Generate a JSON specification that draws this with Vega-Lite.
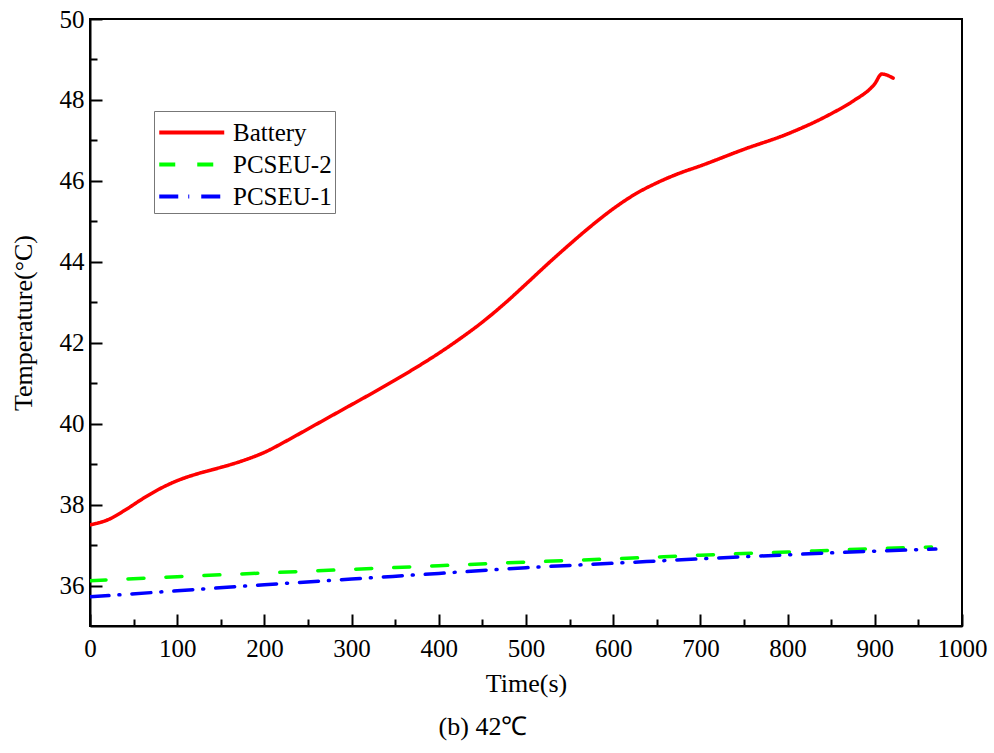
{
  "$schema": "https://vega.github.io/schema/vega-lite/v6.json",
  "autosize": {"type": "none"},
  "padding": {"left": 90, "top": 19, "right": 32, "bottom": 127},
  "width": 872,
  "height": 607,
  "background": "white",
  "title": {"text": "(b) 42℃", "orient": "bottom", "font": "Liberation Serif", "fontSize": 26, "fontWeight": "normal", "color": "black", "offset": 18, "dx": -43},
  "config": {
    "view": {"stroke": "black", "strokeWidth": 2},
    "axis": {"grid": false, "labelFont": "Liberation Serif", "titleFont": "Liberation Serif", "labelFontSize": 25, "titleFontSize": 26, "titleFontWeight": "normal", "labelColor": "black", "titleColor": "black", "domainColor": "black", "domainWidth": 2, "tickColor": "black", "tickWidth": 2}
  },
  "data": {"values": [
    {"s": "Battery", "t": 0, "T": 37.50}, {"s": "Battery", "t": 20, "T": 37.62}, {"s": "Battery", "t": 40, "T": 37.86},
    {"s": "Battery", "t": 60, "T": 38.14}, {"s": "Battery", "t": 80, "T": 38.39}, {"s": "Battery", "t": 100, "T": 38.59},
    {"s": "Battery", "t": 120, "T": 38.74}, {"s": "Battery", "t": 140, "T": 38.86}, {"s": "Battery", "t": 160, "T": 38.98},
    {"s": "Battery", "t": 180, "T": 39.12}, {"s": "Battery", "t": 200, "T": 39.29}, {"s": "Battery", "t": 225, "T": 39.57},
    {"s": "Battery", "t": 250, "T": 39.87}, {"s": "Battery", "t": 275, "T": 40.17}, {"s": "Battery", "t": 300, "T": 40.47},
    {"s": "Battery", "t": 325, "T": 40.77}, {"s": "Battery", "t": 350, "T": 41.08}, {"s": "Battery", "t": 375, "T": 41.40},
    {"s": "Battery", "t": 400, "T": 41.74}, {"s": "Battery", "t": 425, "T": 42.11}, {"s": "Battery", "t": 450, "T": 42.51},
    {"s": "Battery", "t": 475, "T": 42.96}, {"s": "Battery", "t": 500, "T": 43.45}, {"s": "Battery", "t": 525, "T": 43.95},
    {"s": "Battery", "t": 550, "T": 44.43}, {"s": "Battery", "t": 575, "T": 44.89}, {"s": "Battery", "t": 600, "T": 45.31},
    {"s": "Battery", "t": 625, "T": 45.67}, {"s": "Battery", "t": 650, "T": 45.95}, {"s": "Battery", "t": 675, "T": 46.18},
    {"s": "Battery", "t": 700, "T": 46.37}, {"s": "Battery", "t": 750, "T": 46.78}, {"s": "Battery", "t": 800, "T": 47.16},
    {"s": "Battery", "t": 850, "T": 47.66}, {"s": "Battery", "t": 875, "T": 47.97}, {"s": "Battery", "t": 900, "T": 48.40},
    {"s": "Battery", "t": 908, "T": 48.64}, {"s": "Battery", "t": 921, "T": 48.54},
    {"s": "PCSEU-2", "t": 0, "T": 36.12}, {"s": "PCSEU-2", "t": 100, "T": 36.22}, {"s": "PCSEU-2", "t": 200, "T": 36.31},
    {"s": "PCSEU-2", "t": 300, "T": 36.40}, {"s": "PCSEU-2", "t": 400, "T": 36.49}, {"s": "PCSEU-2", "t": 500, "T": 36.58},
    {"s": "PCSEU-2", "t": 600, "T": 36.66}, {"s": "PCSEU-2", "t": 700, "T": 36.75}, {"s": "PCSEU-2", "t": 800, "T": 36.83},
    {"s": "PCSEU-2", "t": 900, "T": 36.91}, {"s": "PCSEU-2", "t": 965, "T": 36.95},
    {"s": "PCSEU-1", "t": 0, "T": 35.72}, {"s": "PCSEU-1", "t": 100, "T": 35.87}, {"s": "PCSEU-1", "t": 200, "T": 36.02},
    {"s": "PCSEU-1", "t": 300, "T": 36.16}, {"s": "PCSEU-1", "t": 400, "T": 36.30}, {"s": "PCSEU-1", "t": 500, "T": 36.44},
    {"s": "PCSEU-1", "t": 600, "T": 36.55}, {"s": "PCSEU-1", "t": 700, "T": 36.66}, {"s": "PCSEU-1", "t": 800, "T": 36.76},
    {"s": "PCSEU-1", "t": 900, "T": 36.85}, {"s": "PCSEU-1", "t": 970, "T": 36.90}
  ]},
  "layer": [
    {
      "mark": {"type": "line", "interpolate": "monotone", "strokeWidth": 3.5, "strokeCap": "round", "clip": true},
      "encoding": {
        "x": {"field": "t", "type": "quantitative", "scale": {"domain": [0, 1000], "nice": false},
          "axis": {"orient": "bottom", "title": "Time(s)", "format": "d", "values": [0,100,200,300,400,500,600,700,800,900,1000], "tickSize": -12, "labelPadding": 22, "titlePadding": 9, "labelFlush": false}},
        "y": {"field": "T", "type": "quantitative", "scale": {"domain": [35, 50], "nice": false, "zero": false},
          "axis": {"orient": "left", "title": "Temperature(°C)", "values": [36,38,40,42,44,46,48,50], "tickSize": -12, "labelPadding": 18, "titlePadding": 23, "labelFlush": false}},
        "color": {"field": "s", "type": "nominal",
          "scale": {"domain": ["Battery", "PCSEU-2", "PCSEU-1"], "range": ["#ff0000", "#00ff00", "#0000ff"]},
          "legend": {"orient": "none", "legendX": 64, "legendY": 92, "title": null, "symbolType": "M-1,0H3", "symbolSize": 1056, "symbolStrokeWidth": 4, "labelFont": "Liberation Serif", "labelFontSize": 25, "labelColor": "black", "strokeColor": "#777", "fillColor": "white", "padding": 3, "rowPadding": 0, "labelOffset": 39}},
        "strokeDash": {"field": "s", "type": "nominal",
          "scale": {"domain": ["Battery", "PCSEU-2", "PCSEU-1"], "range": [[1, 0], [16, 22], [19, 10, 1, 12]]},
          "legend": null}
      }
    },
    {
      "mark": {"type": "line", "opacity": 0},
      "encoding": {
        "x": {"field": "t", "type": "quantitative", "scale": {"domain": [0, 1000], "nice": false},
          "axis": {"orient": "bottom", "title": null, "labels": false, "domain": false, "values": [50,150,250,350,450,550,650,750,850,950], "tickSize": -7}},
        "y": {"field": "T", "type": "quantitative", "scale": {"domain": [35, 50], "nice": false, "zero": false},
          "axis": {"orient": "left", "title": null, "labels": false, "domain": false, "values": [37,39,41,43,45,47,49], "tickSize": -7}},
        "detail": {"field": "s", "type": "nominal"}
      }
    }
  ],
  "resolve": {"axis": {"x": "independent", "y": "independent"}}
}
